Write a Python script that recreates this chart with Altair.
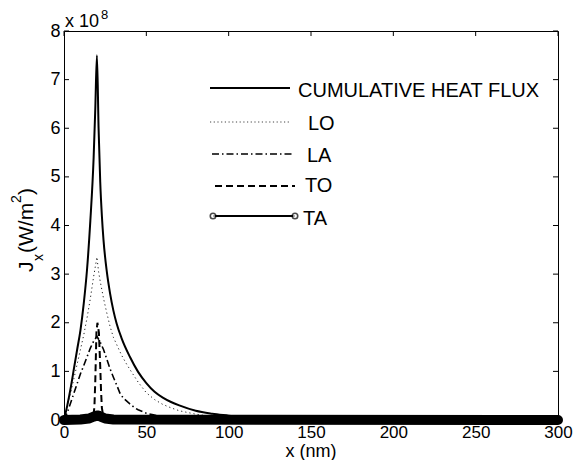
import altair as alt
import pandas as pd

# ---- data (heat flux in units of 1e8 W/m^2, x in nm) ----
cum_x = [0, 2, 4, 6, 8, 10, 12, 14, 16, 18, 19, 20, 21, 22, 23, 24, 26, 28, 30, 32, 35, 40, 45, 50,
         55, 60, 65, 70, 80, 90, 100, 110, 120, 130, 150, 200, 250, 300]
cum_y = [0, 0.3, 0.65, 1.05, 1.45, 1.85, 2.4, 3.1, 4.1, 5.4, 6.4, 7.5, 6.0, 4.9, 4.2, 3.7, 3.05, 2.6, 2.25,
         1.98, 1.68, 1.3, 0.99, 0.76, 0.58, 0.46, 0.37, 0.3, 0.19, 0.13, 0.09, 0.05, 0.03, 0.02, 0.01,
         0, 0, 0]

lo_x = [0, 2, 4, 6, 8, 10, 12, 14, 16, 18, 19, 20, 21, 22, 24, 26, 28, 30, 32, 35, 38, 40, 45, 50, 55,
        60, 65, 70, 80, 90, 100, 110, 120, 150, 200, 300]
lo_y = [0, 0.3, 0.55, 0.85, 1.15, 1.45, 1.75, 2.1, 2.5, 2.95, 3.15, 3.35, 3.05, 2.85, 2.5, 2.2, 1.92,
        1.7, 1.55, 1.33, 1.15, 1.04, 0.78, 0.56, 0.42, 0.32, 0.25, 0.19, 0.12, 0.07, 0.04, 0.02, 0.01,
        0, 0, 0]

la_x = [0, 2, 4, 6, 8, 10, 12, 14, 16, 18, 20, 22, 24, 26, 28, 30, 32, 34, 36, 40, 43, 45, 50, 55, 60,
        64, 70, 80, 90, 300]
la_y = [0, 0.15, 0.35, 0.55, 0.75, 0.95, 1.12, 1.3, 1.48, 1.62, 1.72, 1.6, 1.45, 1.25, 1.05, 0.88,
        0.72, 0.55, 0.45, 0.33, 0.25, 0.21, 0.14, 0.1, 0.07, 0.05, 0.03, 0.01, 0, 0]

to_x = [0, 17, 18, 18.5, 19, 19.7, 20.3, 21.2, 22, 22.5, 23, 24, 25, 300]
to_y = [0, 0, 0.1, 0.3, 0.8, 1.8, 2.0, 1.8, 1.1, 0.6, 0.25, 0.05, 0, 0]

ta_x = [0, 10, 15, 18, 20, 21, 23, 25, 30, 300]
ta_y = [0, 0.01, 0.03, 0.07, 0.09, 0.09, 0.06, 0.03, 0.01, 0]

x_ticks = [0, 50, 100, 150, 200, 250, 300]
y_ticks = [0, 1, 2, 3, 4, 5, 6, 7, 8]

legend_labels = ["CUMULATIVE HEAT FLUX", "LO", "LA", "TO", "TA"]

FONT = "Liberation Sans"
W, H = 494, 389
TOP = 23

xscale = alt.Scale(domain=[0, 300], nice=False, zero=False)
yscale = alt.Scale(domain=[0, 8], nice=False, zero=False)
xaxis = alt.Axis(values=x_ticks, ticks=False, domain=False, grid=False, title=None,
                 labelFontSize=17, labelFont=FONT, labelColor="black", labelPadding=4,
                 labelFlush=False, labelOverlap=False)
yaxis = alt.Axis(values=y_ticks, ticks=False, domain=False, grid=False, title=None,
                 labelFontSize=18, labelFont=FONT, labelColor="black", labelPadding=4,
                 labelBaseline="middle", labelFlush=False, labelOverlap=False)

X = alt.X("x:Q", scale=xscale, axis=xaxis)
Y = alt.Y("y:Q", scale=yscale, axis=yaxis)


def series(xs, ys, color="black", **style):
    df = pd.DataFrame({"x": xs, "y": ys})
    return alt.Chart(df).mark_line(color=color, **style).encode(x=X, y=Y)


one = pd.DataFrame({"a": [0]})


def txt(s, x, y, size=20, angle=0, align="left"):
    return alt.Chart(one).mark_text(text=s, font=FONT, fontSize=size, color="black",
                                    align=align, baseline="alphabetic", angle=angle).encode(
        x=alt.value(x), y=alt.value(y))


def seg(x1, x2, y, color="black", **style):
    return alt.Chart(one).mark_rule(color=color, **style).encode(
        x=alt.value(x1), x2=alt.value(x2), y=alt.value(y))


layers = []
# inward ticks
xt = pd.DataFrame({"x": x_ticks})
yt = pd.DataFrame({"y": y_ticks})
layers.append(alt.Chart(xt).mark_rule(color="black", strokeWidth=1).encode(
    x=X, y=alt.value(H), y2=alt.value(H - 5)))
layers.append(alt.Chart(xt).mark_rule(color="black", strokeWidth=1).encode(
    x=X, y=alt.value(0), y2=alt.value(5)))
layers.append(alt.Chart(yt).mark_rule(color="black", strokeWidth=1).encode(
    y=Y, x=alt.value(0), x2=alt.value(5)))
layers.append(alt.Chart(yt).mark_rule(color="black", strokeWidth=1).encode(
    y=Y, x=alt.value(W), x2=alt.value(W - 5)))

# data series
layers.append(series(lo_x, lo_y, strokeWidth=1, strokeDash=[1.2, 3], color="#222"))
layers.append(series(la_x, la_y, strokeWidth=1.6, strokeDash=[7, 3, 1.5, 3]))
layers.append(series(to_x, to_y, strokeWidth=2, strokeDash=[7, 4]))
layers.append(series(cum_x, cum_y, strokeWidth=2, interpolate="monotone"))
layers.append(series(ta_x, ta_y, strokeWidth=10, strokeCap="round", strokeJoin="round"))

# legend
layers.append(seg(146, 226, 57, strokeWidth=2))
layers.append(txt(legend_labels[0], 234, 66))
layers.append(seg(146, 226, 91, strokeWidth=1, strokeDash=[1.2, 2.5], color="#444"))
layers.append(txt(legend_labels[1], 244, 99))
layers.append(seg(148, 229, 123, strokeWidth=1.6, strokeDash=[7, 3, 1.5, 3]))
layers.append(txt(legend_labels[2], 243, 131))
layers.append(seg(151, 231, 155, strokeWidth=2, strokeDash=[7, 4]))
layers.append(txt(legend_labels[3], 241, 161))
layers.append(seg(149, 231, 185, strokeWidth=2))
for cx in (149, 231):
    layers.append(alt.Chart(one).mark_point(shape="circle", size=30, filled=True, fill="white",
                                            stroke="black", strokeWidth=1.6).encode(
        x=alt.value(cx), y=alt.value(185)))
layers.append(txt(legend_labels[4], 239, 194))

# axis titles and exponent
layers.append(txt("x (nm)", W / 2, 426, size=18, align="center"))
layers.append(txt("x 10", 1, -4, size=18))
layers.append(txt("8", 37, -12, size=13))
# y title: J_x (W/m^2), rotated
layers.append(txt("J", -31, 241, size=21, angle=270))
layers.append(txt("x", -21, 230, size=14, angle=270))
layers.append(txt("(W/m", -31, 222, size=21, angle=270))
layers.append(txt("2", -43, 172, size=14, angle=270))
layers.append(txt(")", -31, 164, size=21, angle=270))

chart = alt.layer(*layers).properties(
    width=W, height=H,
    autosize=alt.AutoSizeParams(type="none"),
    padding={"left": 56, "top": TOP, "right": 18, "bottom": 452 - TOP - H},
    background="white",
).configure_view(stroke="black", strokeWidth=1).configure_axis(labelFont=FONT)

chart.save("out.html", embed_options={"renderer": "svg", "actions": False})
